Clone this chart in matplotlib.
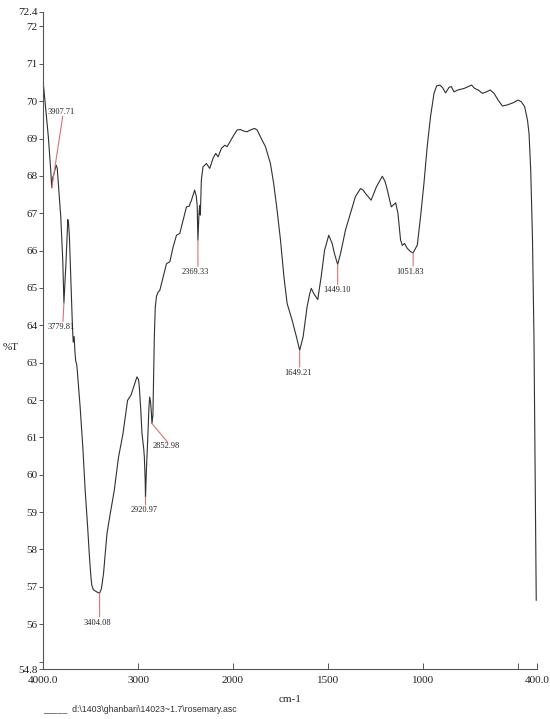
import numpy as np
import matplotlib
matplotlib.use('Agg')
import matplotlib.pyplot as plt

# FTIR spectrum (wavenumber cm-1, %T)
wavenumber = [4000, 3990, 3944, 3920, 3907.7, 3898, 3880, 3862, 3850, 3813,
              3792, 3779.8, 3757, 3739, 3730, 3722, 3708, 3690, 3682, 3672,
              3664, 3656, 3645, 3638, 3609, 3580, 3556, 3530, 3511, 3495,
              3486, 3470, 3451, 3425, 3404.1, 3385, 3363, 3345, 3327, 3292,
              3250, 3205, 3158, 3110, 3074, 3046, 3011, 2995, 2986, 2970,
              2958, 2940, 2933, 2925, 2921, 2912, 2898, 2885, 2877, 2868,
              2860, 2853, 2843, 2836, 2828, 2818, 2805, 2790, 2770, 2735,
              2700, 2665, 2630, 2595, 2560, 2525, 2490, 2462, 2437, 2404,
              2386, 2377, 2369.3, 2358, 2351, 2344, 2333, 2316, 2280, 2245,
              2210, 2182, 2157, 2121, 2086, 2062, 2033, 1996, 1978, 1961,
              1944, 1926, 1908, 1887, 1873, 1856, 1829, 1803, 1786, 1768,
              1750, 1732, 1715, 1689, 1666, 1649.2, 1631, 1610, 1596, 1588,
              1575, 1554, 1536, 1518, 1496, 1478, 1465, 1449.1, 1434, 1408,
              1382, 1356, 1329, 1315, 1303, 1273, 1245, 1214, 1200, 1192,
              1167, 1144, 1132, 1118, 1109, 1097, 1083, 1065, 1051.8, 1030,
              1013, 995, 978, 960, 942, 928, 911, 898, 881, 863,
              851, 837, 816, 784, 758, 744, 728, 710, 687, 665,
              647, 626, 605, 582, 556, 524, 500, 482, 465, 450,
              442, 433, 424, 416, 404]
transmittance = [70.55, 70.3, 69.05, 68.2, 67.68, 67.95, 68.1, 68.29, 68.2, 66.9,
                 65.74, 64.6, 65.74, 66.83, 66.7, 66.37, 65.3, 63.96, 63.55, 63.7,
                 63.3, 63.05, 62.95, 62.75, 61.81, 60.7, 59.58, 58.6, 57.8, 57.25,
                 57.04, 56.92, 56.89, 56.85, 56.83, 56.95, 57.35, 57.9, 58.42, 58.96,
                 59.58, 60.47, 61.1, 61.99, 62.13, 62.35, 62.62, 62.55, 62.35, 61.7,
                 61.1, 60.7, 60.47, 59.9, 59.4, 60.1, 60.92, 61.8, 62.08, 61.95,
                 61.7, 61.37, 61.6, 62.6, 63.7, 64.5, 64.78, 64.88, 64.94, 65.3,
                 65.65, 65.7, 66.1, 66.41, 66.46, 66.81, 67.17, 67.19, 67.35, 67.62,
                 67.45, 67.2, 66.28, 66.99, 67.21, 66.95, 67.89, 68.24, 68.33, 68.2,
                 68.47, 68.6, 68.51, 68.74, 68.82, 68.78, 68.91, 69.09, 69.23, 69.24,
                 69.2, 69.18, 69.23, 69.27, 69.23, 69.05, 68.78, 68.33, 67.8, 67.08,
                 66.28, 65.3, 64.58, 64.14, 63.69, 63.33, 63.69, 64.5, 64.85, 64.99,
                 64.85, 64.69, 65.3, 66.01, 66.41, 66.19, 65.9, 65.63, 65.92, 66.55,
                 67.0, 67.44, 67.66, 67.62, 67.53, 67.35, 67.71, 67.99, 67.85, 67.71,
                 67.17, 67.28, 67.0, 66.28, 66.14, 66.19, 66.06, 65.97, 65.94, 66.15,
                 66.9, 67.8, 68.78, 69.6, 70.21, 70.41, 70.43, 70.37, 70.22, 70.37,
                 70.39, 70.25, 70.3, 70.34, 70.4, 70.43, 70.34, 70.3, 70.21, 70.25,
                 70.3, 70.21, 70.03, 69.87, 69.9, 69.96, 70.03, 69.98, 69.85, 69.49,
                 69.14, 68.15, 66.37, 63.69, 56.64]

# peak labels: where the red leader ends and where the text sits (points from the peak)
peaks = [3907.71, 3779.81, 3404.08, 2920.97, 2852.98, 2369.33, 1649.21, 1449.10, 1051.83]
line_offsets = [(7.9, 51.5), (-0.7, -13.5), (0, -17), (0, -5.5), (11.1, -13.2),
                (0, -19), (0, -12), (0, -14.5), (0, -9.5)]
text_offsets = [(6.8, 51.5), (-1.8, -14.5), (-1.3, -18.5), (-1.2, -6.5), (10.4, -13.5),
                (-1.7, -20.5), (-1.5, -13.2), (-0.5, -15.8), (-2.4, -10.8)]

ytick_vals = [54.8] + list(range(55, 73)) + [72.4]
ytick_text = ['54.8', ''] + [str(v) for v in range(56, 73)] + ['72.4']
xtick_vals = [4000, 3000, 2000, 1500, 1000, 500, 400]
xtick_text = ['4000.0', '3000', '2000', '1500', '1000', '', '400.0']


def fwd(w):
    # below 2000 cm-1 the axis is stretched twice
    w = np.asarray(w, dtype=float)
    return np.where(w >= 2000, w, 2 * w - 2000)


def inv(v):
    v = np.asarray(v, dtype=float)
    return np.where(v >= 2000, v, (v + 2000) / 2)


plt.rcParams['font.family'] = ['Liberation Serif', 'DejaVu Serif']

fig = plt.figure(figsize=(5.5, 7.19), dpi=100)
ax = fig.add_axes([43 / 550, 1 - 669 / 719, (537 - 43) / 550, (669 - 11.5) / 719])

ax.plot(wavenumber, transmittance, color='#303030', lw=0.8)

ax.set_xscale('function', functions=(fwd, inv))
ax.set_xlim(4000, 400)
ax.set_ylim(54.8, 72.4)

ax.set_xticks(xtick_vals)
ax.set_xticklabels(xtick_text)
ax.set_yticks(ytick_vals)
ax.set_yticklabels(ytick_text)
ax.minorticks_off()
ax.tick_params(axis='x', direction='in', length=4, width=0.7, colors='#555555',
               labelcolor='#222222', labelsize=8, pad=5)
ax.tick_params(axis='y', direction='out', length=3, width=0.7, colors='#555555',
               labelcolor='#222222', labelsize=8, pad=1)

for side in ['top', 'right']:
    ax.spines[side].set_visible(False)
for side in ['left', 'bottom']:
    ax.spines[side].set_color('#555555')
    ax.spines[side].set_linewidth(0.8)

wn_inc = wavenumber[::-1]
t_inc = transmittance[::-1]
for p, (lx, ly), (tx, ty) in zip(peaks, line_offsets, text_offsets):
    py = np.interp(p, wn_inc, t_inc)
    # red leader from the peak
    ax.annotate('', xy=(p, py), xytext=(lx, ly), textcoords='offset points',
                arrowprops=dict(arrowstyle='-', color='#e07070', lw=0.8,
                                shrinkA=0, shrinkB=0))
    ax.annotate(f'{p:.2f}', xy=(p, py), xytext=(tx, ty), textcoords='offset points',
                ha='center', va='bottom' if ty > 0 else 'top',
                fontsize=6, color='#222222')

fig.text(11 / 550, 1 - 347 / 719, '%T', ha='center', va='center', fontsize=8, color='#222222')
fig.text(290 / 550, 1 - 700 / 719, 'cm-1', ha='center', va='center', fontsize=8, color='#222222')
fig.text(43 / 550, 1 - 709 / 719, '_____  d:\\1403\\ghanbari\\14023~1.7\\rosemary.asc',
         ha='left', va='center', fontsize=6.3, color='#333333', family='Liberation Sans')

fig.savefig('out.png', dpi=100)
